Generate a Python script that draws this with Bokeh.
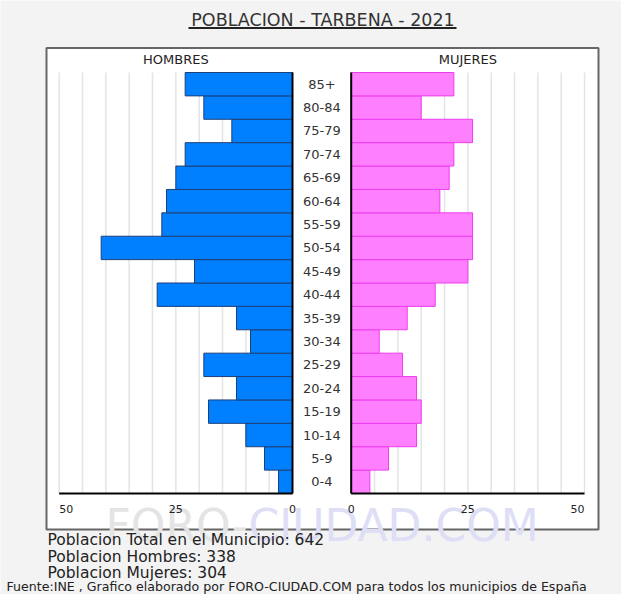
from bokeh.plotting import figure
from bokeh.models import Range1d
from bokeh.core.properties import value
from bokeh.embed import file_html
from bokeh.resources import INLINE

# ---------------- data ----------------
ages = ["0-4", "5-9", "10-14", "15-19", "20-24", "25-29", "30-34", "35-39", "40-44",
        "45-49", "50-54", "55-59", "60-64", "65-69", "70-74", "75-79", "80-84", "85+"]
hombres = [3, 6, 10, 18, 12, 19, 9, 12, 29, 21, 41, 28, 27, 25, 23, 13, 19, 23]
mujeres = [4, 8, 14, 15, 14, 11, 6, 12, 18, 25, 26, 26, 19, 21, 22, 26, 15, 22]
ticks = [0, 25, 50]
grid_vals = [5, 10, 15, 20, 25, 30, 35, 40, 45, 50]
title_text = "POBLACION - TARBENA - 2021"
footer_text = "Fuente:INE , Grafico elaborado por FORO-CIUDAD.COM para todos los municipios de España"

total_h = sum(hombres)
total_m = sum(mujeres)

# ---------------- layout helpers (reference pixel -> data) ----------------
OFF = 8            # page margin
W, H = 621, 594
X0W = 358.7        # pixel of women zero
X0M = 300.0        # pixel of men zero
PPX = 233.33 / 50  # pixels per person
BAR_TOP, BAR_BOT = 80.0, 501.0
PPY = (BAR_BOT - BAR_TOP) / len(ages)
FONT = value("DejaVu Sans")


def wx(px):
    return (px - X0W) / PPX


def wy(py):
    return (len(ages) - 0.5) - (py - BAR_TOP) / PPY


GAP = (X0W - X0M) / PPX
XL, XR = wx(OFF), wx(OFF + W)
YT, YB = wy(OFF), wy(OFF + H)

p = figure(width=W, height=H, output_backend="svg", toolbar_location=None,
           title=None, x_range=Range1d(XL, XR), y_range=Range1d(YB, YT),
           x_axis_location=None, y_axis_location=None, min_border=0,
           outline_line_color=None, background_fill_color="#f3f3f3",
           border_fill_color="#f3f3f3")
p.xgrid.visible = False
p.ygrid.visible = False
p.extra_x_ranges = {"men": Range1d(-GAP - XL, -GAP - XR)}

idx = list(range(len(ages)))
lo, hi = -0.5, len(ages) - 0.5

# white panel
p.quad(left=wx(54), right=wx(606), top=wy(55.5), bottom=wy(537),
       fill_color="white", line_color="#666666", line_width=2)

# watermark
p.text(x=[wx(113)], y=[wy(533)], text=["FORO-"], text_font=FONT,
       text_font_size="44px", text_color="#e4e4e4", text_align="left",
       text_baseline="alphabetic")
p.text(x=[wx(256)], y=[wy(533)], text=["CIUDAD.COM"], text_font=FONT,
       text_font_size="44px", text_color="#dedef6", text_align="left",
       text_baseline="alphabetic")

# grid lines
p.segment(x0=grid_vals, x1=grid_vals, y0=lo, y1=hi, x_range_name="men",
          line_color="#e4e4e4", line_width=1.5)
p.segment(x0=grid_vals, x1=grid_vals, y0=lo, y1=hi,
          line_color="#e4e4e4", line_width=1.5)

# bars
p.hbar(y=idx, left=hombres, right=0, height=1, x_range_name="men",
       fill_color="#0080ff", line_color="#1f3f77", line_width=1)
p.hbar(y=idx, left=0, right=mujeres, height=1,
       fill_color="#ff80ff", line_color="#ee3cee", line_width=1)

# axis lines
p.segment(x0=[0, 0], x1=[0, max(ticks)], y0=[lo, lo], y1=[hi, lo],
          x_range_name="men", line_color="black", line_width=2)
p.segment(x0=[0, 0], x1=[0, max(ticks)], y0=[lo, lo], y1=[hi, lo],
          line_color="black", line_width=2)

# age labels
p.text(x=[-GAP / 2] * len(ages), y=idx, text=ages, text_font=FONT,
       text_font_size="13px", text_color="#333333", text_align="center",
       text_baseline="middle")

# tick labels
ty = wy(516.5)
for t in ticks:
    p.text(x=[t], y=[ty], text=[str(t)], x_range_name="men", text_font=FONT,
           text_font_size="11px", text_color="#222222",
           text_align="left" if t == max(ticks) else "center", text_baseline="middle")
    p.text(x=[t], y=[ty], text=[str(t)], text_font=FONT,
           text_font_size="11px", text_color="#222222",
           text_align="right" if t == max(ticks) else "center", text_baseline="middle")

# panel headers
p.text(x=[25], y=[wy(67)], text=["HOMBRES"], x_range_name="men", text_font=FONT,
       text_font_size="13px", text_color="#222222", text_align="center",
       text_baseline="middle")
p.text(x=[25], y=[wy(67)], text=["MUJERES"], text_font=FONT,
       text_font_size="13px", text_color="#222222", text_align="center",
       text_baseline="middle")

# title + underline
p.text(x=[wx(330.5)], y=[wy(27)], text=[title_text], text_font=FONT,
       text_font_size="17.5px", text_color="#333333", text_align="center",
       text_baseline="middle")
p.segment(x0=[wx(196)], x1=[wx(464)], y0=[wy(35.5)], y1=[wy(35.5)],
          line_color="#222222", line_width=2)

# stats
stats = [f"Poblacion Total en el Municipio: {total_h + total_m}",
         f"Poblacion Hombres: {total_h}",
         f"Poblacion Mujeres: {total_m}"]
p.text(x=[wx(55)] * 3, y=[wy(547), wy(564), wy(580.5)], text=stats, text_font=FONT,
       text_font_size="15.5px", text_color="#222222", text_align="left",
       text_baseline="middle")

# footer
p.text(x=[wx(14)], y=[wy(594)], text=[footer_text], text_font=FONT,
       text_font_size="12.6px", text_color="#222222", text_align="left",
       text_baseline="middle")

open("out.html", "w").write(file_html(p, INLINE))
